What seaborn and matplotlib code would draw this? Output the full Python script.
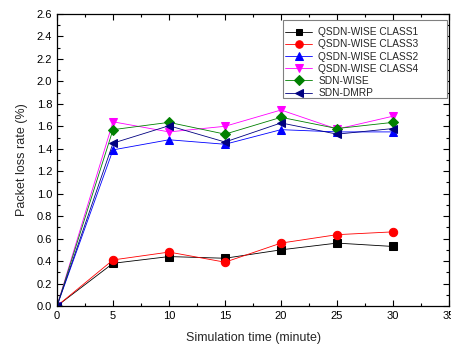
import numpy as np
import pandas as pd
import matplotlib
matplotlib.use("Agg")
import matplotlib.pyplot as plt
import seaborn as sns
from matplotlib.ticker import MultipleLocator
from matplotlib.patches import Rectangle

time = [0, 5, 10, 15, 20, 25, 30]
class1 = [0.0, 0.38, 0.44, 0.425, 0.50, 0.56, 0.53]
class3 = [0.0, 0.41, 0.48, 0.39, 0.56, 0.635, 0.66]
class2 = [0.0, 1.39, 1.48, 1.44, 1.57, 1.55, 1.55]
class4 = [0.0, 1.64, 1.55, 1.60, 1.745, 1.575, 1.69]
sdn_wise = [0.0, 1.57, 1.635, 1.53, 1.68, 1.58, 1.635]
sdn_dmrp = [0.0, 1.45, 1.605, 1.46, 1.63, 1.53, 1.58]

series_names = ["QSDN-WISE CLASS1", "QSDN-WISE CLASS3", "QSDN-WISE CLASS2",
                "QSDN-WISE CLASS4", "SDN-WISE", "SDN-DMRP"]
series_values = [class1, class3, class2, class4, sdn_wise, sdn_dmrp]
colors = ["#000000", "#ff0000", "#0000ff", "#ff00ff", "#008000", "#000080"]
markers = ["s", "o", "^", "v", "D", "<"]
msizes = [5.5, 6, 6, 6, 5.5, 6]

sns.set_style("ticks")
plt.rcParams["font.family"] = ["Liberation Sans", "DejaVu Sans"]

fig = plt.figure(figsize=(4.51, 3.47), dpi=100)
ax = fig.add_axes([0.1264, 0.1182, 0.8692, 0.8415])

for name, vals, c, m, ms in zip(series_names, series_values, colors, markers, msizes):
    df = pd.DataFrame({"t": time, "v": vals})
    sns.lineplot(data=df, x="t", y="v", ax=ax, color=c, marker=m, markersize=ms,
                 markeredgecolor=c, linewidth=0.6, label=name)

ax.set_xlim(0, 35)
ax.set_ylim(0, 2.6)
ax.xaxis.set_minor_locator(MultipleLocator(2.5))
ax.yaxis.set_minor_locator(MultipleLocator(0.1))
ax.set_yticks(np.arange(0, 2.61, 0.2))
ax.set_yticklabels([f"{v:.1f}" for v in np.arange(0, 2.61, 0.2)])
ax.set_xticks([0, 5, 10, 15, 20, 25, 30, 35])
ax.set_xticklabels(["0", "5", "10", "15", "20", "25", "30", "35"])
ax.tick_params(which="both", direction="in", top=True, right=True, labelsize=8, colors="black")
ax.tick_params(which="major", length=4, width=0.8)
ax.tick_params(which="minor", length=2, width=0.8)
for s in ax.spines.values():
    s.set_linewidth(0.9)
    s.set_color("black")

ax.set_xlabel("Simulation time (minute)", fontsize=9, labelpad=8)
ax.set_ylabel("Packet loss rate (%)", fontsize=9, labelpad=6)

# legend frame (Origin-style, wider box on the right)
frame = Rectangle((0.5765, 0.712), 0.418, 0.267, transform=ax.transAxes,
                  facecolor="white", edgecolor="#808080", linewidth=0.8, zorder=4)
ax.add_patch(frame)
leg = ax.legend(loc="upper left", bbox_to_anchor=(0.5815, 0.955), borderaxespad=0,
                fontsize=7.3, frameon=False, handlelength=2.7,
                labelspacing=0.22, borderpad=0.0, handletextpad=0.6, markerscale=0.9)
leg.set_zorder(5)

fig.savefig("out.png", dpi=100)
